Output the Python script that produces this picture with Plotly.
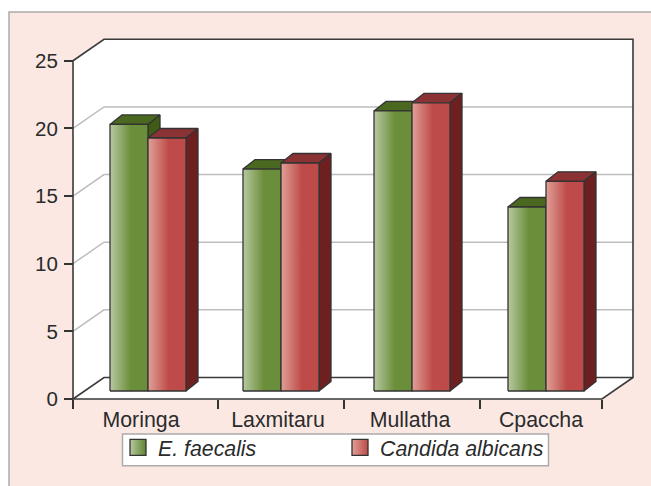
import plotly.graph_objects as go

categories = ["Moringa", "Laxmitaru", "Mullatha", "Cpaccha"]
e_faecalis = [19.7, 16.4, 20.7, 13.6]
candida = [18.7, 16.85, 21.3, 15.5]
y_ticks = [0, 5, 10, 15, 20, 25]

# layout constants (pixels of the 651x486 picture)
W, H = 651, 486
X0, X_END, Y0, PXU = 73, 633, 399, 13.53
PX_X = 132.25
u = lambda px: (px - X0) / PX_X
v = lambda py: (Y0 - py) / PXU
DX, DY = 31 / PX_X, 21.5 / PXU
BAR_W = 38 / PX_X
GROUP_LEFT = [u(110), u(243), u(374), u(508)]
BAR_BASE = 8 / PXU
BDX, BDY = 12 / PX_X, 9.5 / PXU
TICKS_X = [u(73), u(218), u(343.5), u(480), u(602)]
LABELS_X = [u(141), u(278), u(410), u(541)]
XMAX = u(602)
INK = "#333333"

GREEN = dict(scale=[[0, "#B7C8A0"], [0.55, "#6B8E3A"], [1, "#6B8E3A"]], top="#4A6820", side="#3F5C17")
RED = dict(scale=[[0, "#DFA096"], [0.55, "#BE4B49"], [1, "#BE4B49"]], top="#8B3234", side="#6E2020")

fig = go.Figure()


def poly(xs, ys, fill, line=INK, width=1.3, **kw):
    fig.add_trace(go.Scatter(x=xs, y=ys, mode="lines", fill="toself", fillcolor=fill,
                             line=dict(color=line, width=width), hoverinfo="skip",
                             showlegend=False, **kw))


def path(xs, ys, color, width):
    fig.add_trace(go.Scatter(x=xs, y=ys, mode="lines", line=dict(color=color, width=width),
                             hoverinfo="skip", showlegend=False))


# walls and floor
ymax = y_ticks[-1]
poly([0, 0, DX, XMAX + DX, XMAX + DX, XMAX, 0], [0, ymax, ymax + DY, ymax + DY, DY, 0, 0],
     "#FFFFFF", line="rgba(0,0,0,0)", width=0)
for t in y_ticks[1:-1]:
    path([0, DX, XMAX + DX], [t, t + DY, t + DY], "#BDBDBD", 1.5)
path([0, 0, DX, XMAX + DX, XMAX + DX, XMAX, 0], [0, ymax, ymax + DY, ymax + DY, DY, 0, 0], "#3A3A3A", 1.6)
path([0, DX, XMAX + DX], [0, DY, DY], "#3A3A3A", 1.6)


def bar(left, value, style):
    right = left + BAR_W
    top = BAR_BASE + value
    poly([left, left + BDX, right + BDX, right, left],
         [top, top + BDY, top + BDY, top, top], style["top"])
    poly([right, right + BDX, right + BDX, right, right],
         [BAR_BASE, BAR_BASE + BDY, top + BDY, top, BAR_BASE], style["side"])
    return left, right, top


fronts = []
for i, name in enumerate(categories):
    g = GROUP_LEFT[i]
    fronts.append((bar(g, e_faecalis[i], GREEN), GREEN))
    fronts.append((bar(g + BAR_W, candida[i], RED), RED))

for (left, right, top), style in fronts:
    fig.add_trace(go.Scatter(
        x=[left, right, right, left, left], y=[BAR_BASE, BAR_BASE, top, top, BAR_BASE],
        xaxis="x2", mode="lines", fill="toself", line=dict(color=INK, width=1.3),
        fillgradient=dict(type="horizontal", colorscale=style["scale"], start=left, stop=right),
        hoverinfo="skip", showlegend=False))

# legend entries
for name, c0, c1 in [("<i>E. faecalis</i>", "#B7C8A0", "#5F8530"), ("<i>Candida albicans</i>", "#DFA096", "#BE4B49")]:
    fig.add_trace(go.Scatter(x=[None], y=[None], mode="markers", name=name,
                             marker=dict(symbol="square", size=16, color=c0,
                                         gradient=dict(type="horizontal", color=c1),
                                         line=dict(color=INK, width=1.3))))

axis_font = dict(family="Liberation Sans, Arial, sans-serif", size=20.5, color="#2B2B2B")
xpos = (H - Y0) / H
fig.update_layout(
    width=W, height=H, autosize=False,
    margin=dict(l=0, r=0, t=0, b=0, pad=0),
    paper_bgcolor="#FFFFFF", plot_bgcolor="rgba(0,0,0,0)",
    xaxis=dict(range=[u(0), u(W)], tickvals=TICKS_X, ticktext=[""] * 5, ticks="outside", ticklen=9,
               tickwidth=1.5, tickcolor=INK, showgrid=False, zeroline=False, showline=False,
               anchor="free", position=xpos),
    xaxis2=dict(range=[u(0), u(W)], overlaying="x", side="bottom", anchor="free", position=xpos, tickvals=LABELS_X,
                ticktext=categories, ticks="", showgrid=False, zeroline=False, showline=False,
                tickfont=dict(axis_font, size=21.3), ticklabelstandoff=6),
    yaxis=dict(range=[v(H), v(0)], tickvals=y_ticks, ticks="outside", ticklen=9, tickwidth=1.5,
               tickcolor=INK, showgrid=False, zeroline=False, showline=False, tickfont=axis_font,
               anchor="free", position=X0 / W, ticklabelstandoff=2),
    legend=dict(orientation="h", x=118 / W, y=1 - 427 / H, xanchor="left", yanchor="top",
                bgcolor="rgba(0,0,0,0)", borderwidth=0,
                font=dict(family="Liberation Sans, Arial, sans-serif", size=21.3, color="#2B2B2B"),
                entrywidth=177, entrywidthmode="pixels", itemsizing="trace"),
    shapes=[dict(type="rect", xref="paper", yref="paper", layer="below",
                 x0=9 / W, x1=1.1, y0=-0.1, y1=1 - 12 / H,
                 fillcolor="#FBE8E3", line=dict(color="#ABABAB", width=1.5)),
            dict(type="rect", xref="paper", yref="paper", layer="below",
                 x0=122.5 / W, x1=548.5 / W, y0=1 - 465.7 / H, y1=1 - 434 / H,
                 fillcolor="#FFFFFF", line=dict(color="#ABABAB", width=1.5))],
)
fig.write_html("out.html", config=dict(displayModeBar=False), post_script="document.body.style.margin='0';")
